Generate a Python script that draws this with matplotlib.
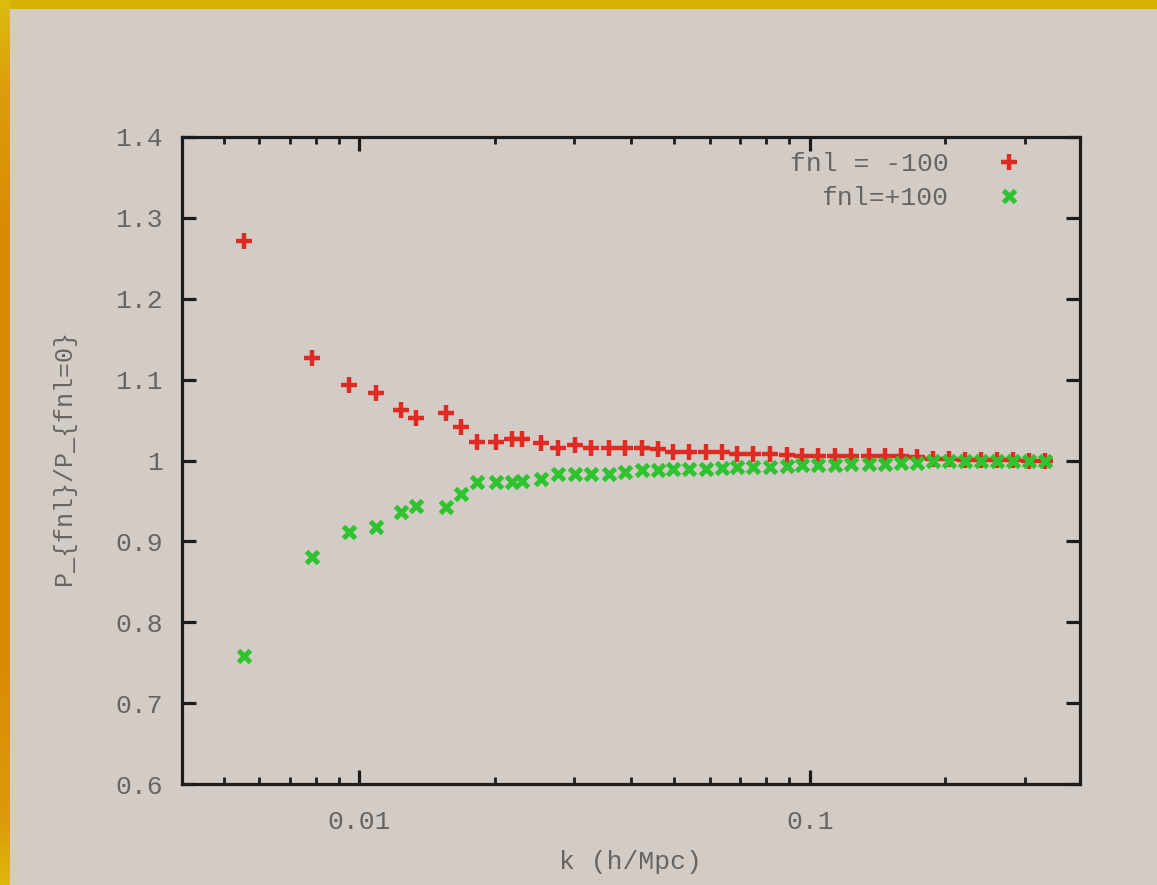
import numpy as np
import matplotlib
matplotlib.use("Agg")
import matplotlib.pyplot as plt
from matplotlib.ticker import FixedLocator, FixedFormatter, NullFormatter

# Binned wavenumbers (h/Mpc)
k = [0.00555, 0.00786, 0.00950, 0.01091, 0.01240, 0.01339, 0.01561, 0.01685,
     0.01829, 0.02016, 0.02188, 0.02302, 0.02525, 0.02768, 0.03005, 0.03262,
     0.03575, 0.03881, 0.04233, 0.04595, 0.04962, 0.05384, 0.05874, 0.06376,
     0.06884, 0.07469, 0.08152, 0.0889, 0.0960, 0.1042, 0.1136, 0.1234,
     0.1352, 0.1468, 0.1593, 0.1729, 0.1876, 0.2037, 0.2210, 0.2399,
     0.2604, 0.2826, 0.3067, 0.3329]

# P(k) ratio to the Gaussian (fnl = 0) run
ratio_fnl_m100 = [1.272, 1.127, 1.093, 1.083, 1.062, 1.053, 1.059, 1.041,
                  1.023, 1.023, 1.027, 1.026, 1.022, 1.015, 1.019, 1.016,
                  1.016, 1.015, 1.015, 1.014, 1.011, 1.011, 1.011, 1.010,
                  1.008, 1.008, 1.008, 1.007, 1.006, 1.006, 1.006, 1.005,
                  1.005, 1.005, 1.005, 1.004, 1.002, 1.002, 1.001, 1.001,
                  1.001, 1.001, 1.000, 1.000]
ratio_fnl_p100 = [0.758, 0.881, 0.911, 0.918, 0.936, 0.944, 0.942, 0.958,
                  0.974, 0.974, 0.974, 0.975, 0.977, 0.983, 0.983, 0.983,
                  0.983, 0.986, 0.988, 0.988, 0.989, 0.990, 0.990, 0.991,
                  0.992, 0.992, 0.992, 0.993, 0.994, 0.995, 0.995, 0.996,
                  0.996, 0.996, 0.997, 0.997, 0.999, 0.999, 0.999, 0.999,
                  1.000, 1.000, 1.000, 1.000]

label_m100 = "fnl = -100"
label_p100 = "fnl=+100"
y_ticks = [0.6, 0.7, 0.8, 0.9, 1.0, 1.1, 1.2, 1.3, 1.4]
y_tick_labels = ["0.6", "0.7", "0.8", "0.9", "1", "1.1", "1.2", "1.3", "1.4"]
x_ticks = [0.01, 0.1]
x_tick_labels = ["0.01", "0.1"]

BG = "#d3ccc6"
TEXT = "#676462"
AXIS = "#1e1c1a"
FONT = "Liberation Mono"

W, H = 1157, 885
fig = plt.figure(figsize=(W / 100, H / 100), dpi=100, facecolor=BG)

# Slide frame: gold band along the top, yellow/orange band down the left side
frame_top = fig.add_axes([0, 1 - 9 / H, 1, 9 / H])
frame_top.imshow(np.array([[[0.84, 0.70, 0.02]]]), aspect="auto")
frame_top.axis("off")

stops_y = [0.0, 0.08, 0.25, 0.75, 0.9, 1.0]
stops_rgb = np.array([[0.87, 0.72, 0.05], [0.86, 0.60, 0.04], [0.85, 0.55, 0.02],
                      [0.85, 0.55, 0.02], [0.86, 0.62, 0.04], [0.86, 0.74, 0.06]])
yy = np.linspace(0, 1, 200)
grad = np.stack([np.interp(yy, stops_y, stops_rgb[:, c]) for c in range(3)], axis=-1)
frame_left = fig.add_axes([0, 0, 10 / W, 1])
frame_left.imshow(grad[::-1][:, None, :], aspect="auto")
frame_left.axis("off")

inner = fig.add_axes([10 / W, 0, 9 / W, 1 - 9 / H])
inner.set_facecolor("#dcd6d1")
inner.axis("off")
inner.patch.set_visible(True)

ax = fig.add_axes([182 / W, 1 - 784 / H, (1080 - 182) / W, (784 - 137) / H])
ax.set_facecolor(BG)

ax.plot(k, ratio_fnl_m100, ls="none", marker="+", ms=11, mew=3.2,
        color="#e02a22", label=label_m100)
ax.plot(k, ratio_fnl_p100, ls="none", marker="x", ms=9, mew=3.6,
        color="#2fc42f", label=label_p100)

ax.set_xscale("log")
ax.set_xlim(0.00404, 0.398)
ax.set_ylim(0.6, 1.4)

ax.xaxis.set_major_locator(FixedLocator(x_ticks))
ax.xaxis.set_major_formatter(FixedFormatter(x_tick_labels))
minor = [m * d for d in (0.001, 0.01, 0.1) for m in range(2, 10)]
ax.xaxis.set_minor_locator(FixedLocator(minor))
ax.xaxis.set_minor_formatter(NullFormatter())
ax.yaxis.set_major_locator(FixedLocator(y_ticks))
ax.yaxis.set_major_formatter(FixedFormatter(y_tick_labels))
ax.yaxis.set_minor_locator(FixedLocator([]))

for s in ax.spines.values():
    s.set_linewidth(2.3)
    s.set_color(AXIS)

ax.tick_params(which="both", direction="in", top=True, right=True,
               color=AXIS, labelcolor=TEXT, labelsize=19)
ax.tick_params(which="major", length=10, width=2.3)
ax.tick_params(which="minor", length=5, width=2.0)
ax.tick_params(axis="x", which="major", pad=19)
ax.tick_params(axis="y", which="major", pad=14)
for lab in ax.get_xticklabels() + ax.get_yticklabels():
    lab.set_family(FONT)

ax.set_xlabel("k (h/Mpc)", family=FONT, fontsize=19, color=TEXT, va="center")
ax.xaxis.set_label_coords(0.499, -0.1206)
ax.set_ylabel("P_{fnl}/P_{fnl=0}", family=FONT, fontsize=18, color=TEXT,
              va="center")
ax.yaxis.set_label_coords(-0.131, 0.505)

leg = ax.legend(loc="upper right", bbox_to_anchor=(0.936, 0.977),
                markerfirst=False, frameon=False, numpoints=1,
                handlelength=1.0, handletextpad=1.8, labelspacing=0.38,
                borderaxespad=0, borderpad=0,
                prop={"family": FONT, "size": 19}, labelcolor=TEXT)

fig.savefig("out.png", dpi=100, facecolor=BG)
